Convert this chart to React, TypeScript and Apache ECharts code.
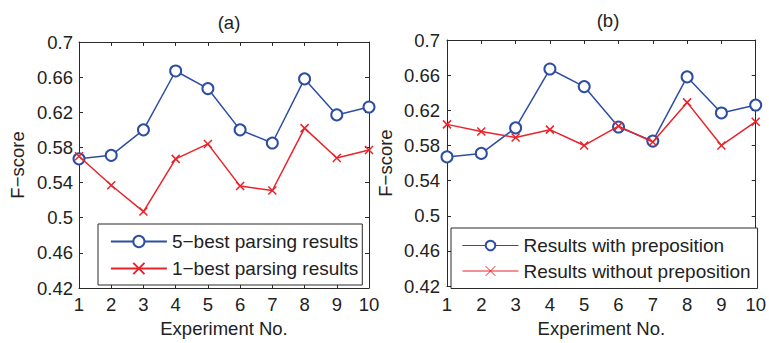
import React, { useEffect, useRef } from "react";
import * as echarts from "echarts";

const categories = ["1", "2", "3", "4", "5", "6", "7", "8", "9", "10"];
const fiveBest = [0.567, 0.571, 0.6, 0.667, 0.647, 0.6, 0.585, 0.658, 0.617, 0.626];
const oneBest = [0.57, 0.537, 0.507, 0.567, 0.584, 0.536, 0.531, 0.602, 0.568, 0.577];
const withPreposition = [0.567, 0.571, 0.6, 0.667, 0.647, 0.601, 0.585, 0.658, 0.617, 0.626];
const withoutPreposition = [0.604, 0.596, 0.589, 0.598, 0.58, 0.602, 0.584, 0.629, 0.58, 0.607];
const yTicks = [0.42, 0.46, 0.5, 0.54, 0.58, 0.62, 0.66, 0.7];

const FONT = "'Liberation Sans', Arial, Helvetica, sans-serif";
const TXT = "#222";
const AX = "#2a2a2a";
const BLUE = "#2d4ea4";
const RED = "#e8232b";
const CROSS = "path://M0,0L10,10M10,0L0,10";
const FS = 18.5;

export default function App() {
  const ref = useRef<HTMLDivElement>(null);
  useEffect(() => {
    document.body.style.margin = "0";
    const chart = echarts.init(ref.current!, null, { renderer: "svg" });
    const fmt = (v: number) => String(+Number(v).toFixed(2));
    const xBottom = (grid: number, margin: number, gap: number) => ({
      type: "category",
      gridIndex: grid,
      data: categories,
      boundaryGap: false,
      position: "bottom",
      axisLine: { lineStyle: { color: AX, width: 1 } },
      axisTick: { inside: true, length: 4, lineStyle: { color: AX } },
      axisLabel: { color: TXT, fontSize: FS, fontFamily: FONT, margin },
      splitLine: { show: false },
      name: "Experiment No.",
      nameLocation: "middle",
      nameGap: gap,
      nameTextStyle: { color: TXT, fontSize: FS, fontFamily: FONT },
    });
    const xTop = (grid: number) => ({
      type: "category",
      gridIndex: grid,
      data: categories,
      boundaryGap: false,
      position: "top",
      axisLine: { lineStyle: { color: AX, width: 1 } },
      axisTick: { inside: true, length: 4, lineStyle: { color: AX } },
      axisLabel: { show: false },
      splitLine: { show: false },
    });
    const yLeft = (grid: number, margin: number, gap: number) => ({
      type: "value",
      gridIndex: grid,
      min: 0.42,
      max: 0.7,
      position: "left",
      axisLine: { show: true, lineStyle: { color: AX, width: 1 } },
      axisTick: { show: true, inside: true, length: 4, customValues: yTicks, lineStyle: { color: AX } },
      axisLabel: { color: TXT, fontSize: FS, fontFamily: FONT, margin, customValues: yTicks, formatter: fmt },
      splitLine: { show: false },
      name: "F\u2212score",
      nameLocation: "middle",
      nameGap: gap,
      nameTextStyle: { color: TXT, fontSize: FS, fontFamily: FONT },
    });
    const yRight = (grid: number) => ({
      type: "value",
      gridIndex: grid,
      min: 0.42,
      max: 0.7,
      position: "right",
      axisLine: { show: true, lineStyle: { color: AX, width: 1 } },
      axisTick: { show: true, inside: true, length: 4, customValues: yTicks, lineStyle: { color: AX } },
      axisLabel: { show: false, customValues: yTicks },
      splitLine: { show: false },
    });
    const circleSeries = (name: string, data: number[], xi: number, yi: number) => ({
      type: "line",
      name,
      data,
      xAxisIndex: xi,
      yAxisIndex: yi,
      symbol: "emptyCircle",
      symbolSize: 11,
      lineStyle: { color: BLUE, width: 1.5 },
      itemStyle: { color: BLUE, borderColor: BLUE, borderWidth: 1.5 },
      z: 3,
    });
    const crossSeries = (name: string, data: number[], xi: number, yi: number) => ({
      type: "line",
      name,
      data,
      xAxisIndex: xi,
      yAxisIndex: yi,
      symbol: CROSS,
      symbolSize: 8,
      lineStyle: { color: RED, width: 1.5 },
      itemStyle: { color: RED, borderColor: RED, borderWidth: 1.5 },
      z: 4,
    });
    chart.setOption({
      animation: false,
      backgroundColor: "#fff",
      textStyle: { fontFamily: FONT },
      title: [
        { text: "(a)", left: 224, top: 8, textAlign: "center", textStyle: { color: TXT, fontSize: FS, fontWeight: "normal", fontFamily: FONT } },
        { text: "(b)", left: 603, top: 6, textAlign: "center", textStyle: { color: TXT, fontSize: FS, fontWeight: "normal", fontFamily: FONT } },
      ],
      grid: [
        { left: 79, top: 42, width: 290, height: 250 },
        { left: 447, top: 40, width: 312, height: 255 },
      ],
      xAxis: [xBottom(0, 7, 31), xTop(0), xBottom(1, 9, 29), xTop(1)],
      yAxis: [yLeft(0, 6, 52), yRight(0), yLeft(1, 7, 52), yRight(1)],
      legend: [
        {
          data: ["5\u2212best parsing results", "1\u2212best parsing results"],
          orient: "vertical",
          left: 98,
          top: 224,
          itemWidth: 56,
          itemHeight: 14,
          itemGap: 8,
          padding: [8, 4, 7, 12],
          borderColor: AX,
          borderWidth: 1,
          backgroundColor: "#fff",
          textStyle: { color: TXT, fontSize: 19, fontFamily: FONT },
          lineStyle: { width: 1.8 },
          selectedMode: false,
        },
        {
          data: ["Results with preposition", "Results without preposition"],
          orient: "vertical",
          left: 451,
          top: 228,
          itemWidth: 56,
          itemHeight: 12,
          itemGap: 6.5,
          padding: [8, 7, 8, 11],
          borderColor: AX,
          borderWidth: 1,
          backgroundColor: "#fff",
          textStyle: { color: TXT, fontSize: 19, fontFamily: FONT },
          lineStyle: { width: 1 },
          itemStyle: { borderWidth: 1 },
          selectedMode: false,
        },
      ],
      series: [
        circleSeries("5\u2212best parsing results", fiveBest, 0, 0),
        crossSeries("1\u2212best parsing results", oneBest, 0, 0),
        circleSeries("Results with preposition", withPreposition, 2, 2),
        crossSeries("Results without preposition", withoutPreposition, 2, 2),
      ],
    });
    return () => chart.dispose();
  }, []);
  return <div ref={ref} style={{ position: "fixed", left: 0, top: 0, width: 769, height: 343 }} />;
}
